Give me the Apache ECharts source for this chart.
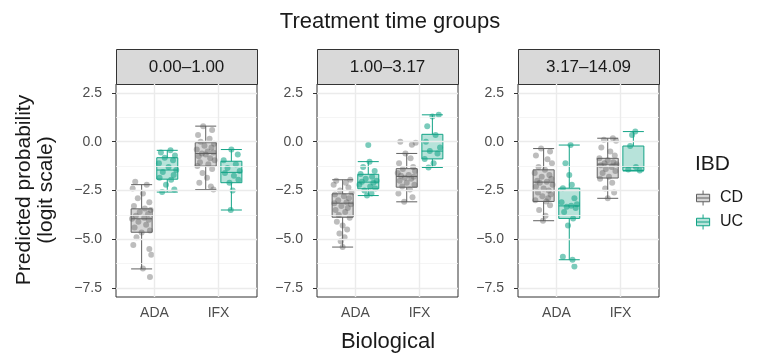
<!DOCTYPE html>
<html>
<head>
<meta charset="utf-8">
<script src="https://cdn.jsdelivr.net/npm/echarts@6.0.0/dist/echarts.min.js"></script>
<style>
html, body { margin: 0; padding: 0; background: #fff; }
#chart { width: 757px; height: 354px; }
</style>
</head>
<body>
<div id="chart"></div>
<script>
const panelLabels = ['0.00–1.00', '1.00–3.17', '3.17–14.09']
const biologicals = ['ADA', 'IFX']
const yTicks = [-7.5, -5, -2.5, 0, 2.5]
const yMinor = [-6.25, -3.75, -1.25, 1.25]

// box stats per panel: [ADA, IFX], each [min, Q1, median, Q3, max]
const cdBox = [
  [[-6.52, -4.64, -3.95, -3.44, -2.2], [-2.45, -1.25, -0.6, -0.05, 0.8]],
  [[-5.4, -3.87, -3.15, -2.67, -1.95], [-3.08, -2.33, -1.78, -1.38, -0.6]],
  [[-4.05, -3.06, -2.07, -1.44, -0.35], [-2.9, -1.86, -1.15, -0.85, 0.18]]
]
const ucBox = [
  [[-2.58, -1.92, -1.45, -0.82, -0.44], [-3.5, -2.1, -1.57, -1.0, -0.4]],
  [[-2.76, -2.41, -2.07, -1.67, -1.02], [-1.32, -0.88, -0.48, 0.38, 1.38]],
  [[-6.05, -3.93, -3.29, -2.38, -0.17], [-1.5, -1.47, -1.3, -0.22, 0.52]]
]

// jittered points, one list per panel
const cdAda = [
  [-2.05, -2.2, -2.4, -2.65, -2.9, -3.1, -3.3, -3.42, -3.5, -3.6, -3.7, -3.8, -3.9, -3.95, -4.0, -4.1, -4.25, -4.4, -4.55, -4.65, -4.9, -5.3, -5.5, -5.8, -6.5, -6.93],
  [-1.95, -2.0, -2.1, -2.2, -2.35, -2.5, -2.6, -2.7, -2.8, -2.9, -3.0, -3.1, -3.15, -3.2, -3.3, -3.4, -3.5, -3.6, -3.75, -3.9, -4.1, -4.3, -4.5, -4.7, -4.9, -5.1, -5.4],
  [-0.35, -0.5, -0.7, -0.9, -1.1, -1.3, -1.44, -1.6, -1.7, -1.8, -1.9, -2.0, -2.05, -2.1, -2.2, -2.3, -2.4, -2.5, -2.6, -2.7, -2.8, -2.9, -3.0, -3.06, -3.25, -3.5, -3.8, -4.05]
]
const cdAdaJit = [
  [-0.1, 0.08, -0.14, 0.02, -0.06, 0.12, -0.12, 0.05, 0.14, -0.03, 0.1, -0.09, 0.04, -0.15, 0.11, -0.05, 0.07, -0.11, 0.13, 0.0, -0.08, -0.13, 0.12, 0.15, 0.02, 0.13],
  [0.12, -0.1, 0.05, -0.14, 0.09, -0.04, 0.14, -0.12, 0.02, 0.1, -0.07, 0.06, -0.13, 0.13, -0.02, 0.08, -0.11, 0.04, -0.06, 0.11, -0.09, 0.0, 0.07, -0.05, 0.03, -0.03, 0.0],
  [-0.04, 0.1, -0.12, 0.06, 0.13, -0.08, 0.02, -0.14, 0.09, -0.03, 0.12, -0.1, 0.05, -0.06, 0.14, -0.12, 0.0, 0.08, -0.09, 0.11, -0.02, 0.07, -0.13, 0.04, 0.1, -0.07, 0.03, -0.01]
]
const cdIfx = [
  [0.8, 0.6, 0.35, 0.15, 0.0, -0.1, -0.2, -0.3, -0.4, -0.5, -0.55, -0.6, -0.65, -0.75, -0.85, -0.95, -1.05, -1.15, -1.25, -1.4, -1.6, -1.85, -2.1, -2.3, -2.45],
  [0.0, -0.15, -0.05, -0.6, -0.85, -1.1, -1.3, -1.4, -1.5, -1.6, -1.7, -1.75, -1.8, -1.85, -1.9, -2.0, -2.1, -2.2, -2.3, -2.45, -2.65, -2.85, -3.08],
  [0.18, 0.1, 0.05, -0.3, -0.5, -0.7, -0.85, -0.95, -1.05, -1.1, -1.15, -1.2, -1.3, -1.4, -1.5, -1.6, -1.8, -1.9, -2.1, -2.4, -2.6, -2.9]
]
const cdIfxJit = [
  [-0.04, 0.1, -0.12, 0.06, -0.08, 0.13, -0.02, 0.09, -0.14, 0.03, 0.12, -0.06, 0.0, -0.11, 0.07, 0.14, -0.09, 0.04, -0.13, 0.1, -0.05, 0.02, -0.1, 0.08, 0.12],
  [-0.1, 0.08, 0.14, -0.02, 0.06, -0.12, 0.1, -0.06, 0.13, -0.14, 0.03, -0.09, 0.11, -0.03, 0.07, -0.11, 0.0, 0.12, -0.07, 0.05, -0.13, 0.09, -0.04],
  [0.08, -0.06, 0.13, -0.1, 0.04, 0.11, -0.13, 0.0, 0.09, -0.05, 0.14, -0.11, 0.06, -0.03, 0.12, -0.08, 0.02, -0.12, 0.07, -0.04, 0.1, 0.0]
]
const ucAda = [
  [-0.44, -0.55, -0.7, -0.82, -0.95, -1.1, -1.3, -1.45, -1.55, -1.7, -1.85, -1.95, -2.2, -2.45, -2.58],
  [-0.17, -1.02, -1.3, -1.5, -1.65, -1.8, -1.9, -2.0, -2.05, -2.1, -2.2, -2.3, -2.4, -2.5, -2.65, -2.76],
  [-0.17, -1.1, -1.7, -2.2, -2.38, -2.9, -3.1, -3.2, -3.28, -3.33, -3.4, -3.6, -3.93, -4.3, -5.9, -6.05, -6.4]
]
const ucAdaJit = [
  [0.05, -0.1, 0.12, -0.04, 0.09, -0.13, 0.02, 0.14, -0.07, 0.1, -0.12, 0.06, -0.02, 0.11, -0.08],
  [0.0, 0.02, -0.08, 0.1, -0.12, 0.06, -0.04, 0.13, -0.1, 0.08, -0.14, 0.03, 0.11, -0.06, 0.05, -0.02],
  [0.02, -0.06, 0.0, 0.04, -0.1, 0.08, -0.12, 0.12, 0.03, -0.04, 0.1, -0.08, 0.06, -0.02, -0.1, 0.05, 0.08]
]
const ucIfx = [
  [-0.4, -0.65, -0.95, -1.15, -1.35, -1.5, -1.6, -1.75, -1.95, -2.1, -2.5, -3.5],
  [1.38, 1.3, 0.8, 0.35, 0.0, -0.3, -0.48, -0.6, -0.88, -1.1, -1.32],
  [0.52, 0.35, -0.22, -1.3, -1.42, -1.47]
]
const ucIfxJit = [
  [0.0, 0.1, -0.12, 0.07, -0.06, 0.13, -0.1, 0.04, 0.11, -0.03, 0.02, -0.01],
  [0.1, 0.0, -0.08, 0.05, -0.1, 0.12, -0.04, 0.08, -0.12, 0.02, -0.06],
  [0.03, -0.02, -0.05, 0.04, -0.08, 0.1]
]

const FONT = '"Liberation Sans", Arial, sans-serif'
const panelLeft = [116, 317, 518]
const panelWidth = 141
const panelTop = 84
const panelHeight = 213
const stripTop = 49
const dodge = 0.2

const cdLine = '#606060'
const cdFill = 'rgba(120,120,120,0.3)'
const cdDot = 'rgba(90,90,90,0.5)'
const ucLine = '#12a386'
const ucFill = 'rgba(18,163,134,0.3)'
const ucDot = 'rgba(18,163,134,0.7)'

const fmtY = v => (v < 0 ? '−' : '') + Math.abs(v).toFixed(1)

const grid = [], xAxis = [], yAxis = [], series = [], graphic = []

panelLabels.forEach((lab, p) => {
  grid.push({
    left: panelLeft[p], top: panelTop, width: panelWidth, height: panelHeight,
    show: true, backgroundColor: '#fff', borderColor: '#333', borderWidth: 1
  })
  xAxis.push({
    type: 'value', gridIndex: p, min: 0.4, max: 2.6,
    axisLine: {show: false},
    splitLine: {show: false},
    axisTick: {show: true, length: 4, customValues: [1, 2], lineStyle: {color: '#333'}},
    axisLabel: {
      customValues: [1, 2], margin: 9, fontSize: 14, color: '#4d4d4d', fontFamily: FONT,
      formatter: v => biologicals[Math.round(v) - 1]
    }
  })
  xAxis.push({type: 'value', gridIndex: p, min: 0.4, max: 2.6, show: false})
  yAxis.push({
    type: 'value', gridIndex: p, min: -7.96, max: 2.96,
    axisLine: {show: false},
    splitLine: {show: false},
    axisTick: {show: true, length: 4, customValues: yTicks, lineStyle: {color: '#333'}},
    axisLabel: {
      customValues: yTicks, margin: 14, fontSize: 14, color: '#4d4d4d', fontFamily: FONT,
      formatter: fmtY
    }
  })

  // grid lines
  const lines = []
  yTicks.forEach(v => lines.push({yAxis: v, lineStyle: {color: '#ebebeb', width: 1.4, type: 'solid'}}))
  yMinor.forEach(v => lines.push({yAxis: v, lineStyle: {color: '#f3f3f3', width: 0.8, type: 'solid'}}))
  ;[1, 2].forEach(v => lines.push({xAxis: v, lineStyle: {color: '#ebebeb', width: 1.4, type: 'solid'}}))
  series.push({
    type: 'scatter', xAxisIndex: 2 * p, yAxisIndex: p, z: 1, silent: true,
    symbolSize: 0, data: [[1, 0]],
    markLine: {silent: true, symbol: ['none', 'none'], label: {show: false}, animation: false, data: lines}
  })

  series.push({
    type: 'boxplot', name: 'CD', xAxisIndex: 2 * p, yAxisIndex: p, z: 3, silent: true,
    boxWidth: [21, 21],
    itemStyle: {color: cdFill, borderColor: cdLine, borderWidth: 1},
    data: biologicals.map((b, i) => [i + 1 - dodge].concat(cdBox[p][i]))
  })
  series.push({
    type: 'boxplot', name: 'UC', xAxisIndex: 2 * p + 1, yAxisIndex: p, z: 3, silent: true,
    boxWidth: [21, 21],
    itemStyle: {color: ucFill, borderColor: ucLine, borderWidth: 1},
    data: biologicals.map((b, i) => [i + 1 + dodge].concat(ucBox[p][i]))
  })

  const pts = (vals, jit, c) => vals.map((v, i) => [c + jit[i], v])
  series.push({
    type: 'scatter', xAxisIndex: 2 * p, yAxisIndex: p, z: 4, silent: true,
    symbolSize: 6, itemStyle: {color: cdDot},
    data: pts(cdAda[p], cdAdaJit[p], 1 - dodge).concat(pts(cdIfx[p], cdIfxJit[p], 2 - dodge))
  })
  series.push({
    type: 'scatter', xAxisIndex: 2 * p, yAxisIndex: p, z: 4, silent: true,
    symbolSize: 6, itemStyle: {color: ucDot},
    data: pts(ucAda[p], ucAdaJit[p], 1 + dodge).concat(pts(ucIfx[p], ucIfxJit[p], 2 + dodge))
  })

  // facet strip
  graphic.push({
    type: 'rect', left: panelLeft[p], top: stripTop,
    shape: {width: panelWidth, height: panelTop - stripTop},
    style: {fill: '#d9d9d9', stroke: '#333', lineWidth: 1}
  })
  graphic.push({
    type: 'text', x: panelLeft[p] + panelWidth / 2, y: (stripTop + panelTop) / 2 + 1,
    style: {text: lab, font: '17px ' + FONT, fill: '#1a1a1a', textAlign: 'center', textVerticalAlign: 'middle'}
  })
})

graphic.push({
  type: 'text', x: 390, y: 22,
  style: {text: 'Treatment time groups', font: '22px ' + FONT, fill: '#1a1a1a', textAlign: 'center', textVerticalAlign: 'middle'}
})
graphic.push({
  type: 'text', x: 388, y: 342,
  style: {text: 'Biological', font: '22px ' + FONT, fill: '#1a1a1a', textAlign: 'center', textVerticalAlign: 'middle'}
})
graphic.push({
  type: 'text', x: 24, y: 190, rotation: Math.PI / 2,
  style: {text: 'Predicted probability', font: '21px ' + FONT, fill: '#1a1a1a', textAlign: 'center', textVerticalAlign: 'middle'}
})
graphic.push({
  type: 'text', x: 46, y: 190, rotation: Math.PI / 2,
  style: {text: '(logit scale)', font: '21px ' + FONT, fill: '#1a1a1a', textAlign: 'center', textVerticalAlign: 'middle'}
})
graphic.push({
  type: 'text', x: 695, y: 164,
  style: {text: 'IBD', font: '21px ' + FONT, fill: '#1a1a1a', textAlign: 'left', textVerticalAlign: 'middle'}
})

const keyIcon = 'path://M0,4L14,4L14,12L0,12Z M7,0L7,4 M7,12L7,16 M0,8L14,8'

const chart = echarts.init(document.getElementById('chart'), null, {renderer: 'canvas'})
chart.setOption({
  animation: false,
  backgroundColor: '#fff',
  grid, xAxis, yAxis, series, graphic,
  legend: {
    orient: 'vertical', left: 696, top: 190, padding: 0,
    itemWidth: 14, itemHeight: 15, itemGap: 8,
    textStyle: {fontSize: 16, color: '#1a1a1a', fontFamily: FONT, padding: [0, 0, 0, 5]},
    data: [
      {name: 'CD', icon: keyIcon, itemStyle: {color: cdFill, borderColor: cdLine, borderWidth: 1}},
      {name: 'UC', icon: keyIcon, itemStyle: {color: ucFill, borderColor: ucLine, borderWidth: 1}}
    ],
    selectedMode: false
  }
})
</script>
</body>
</html>
